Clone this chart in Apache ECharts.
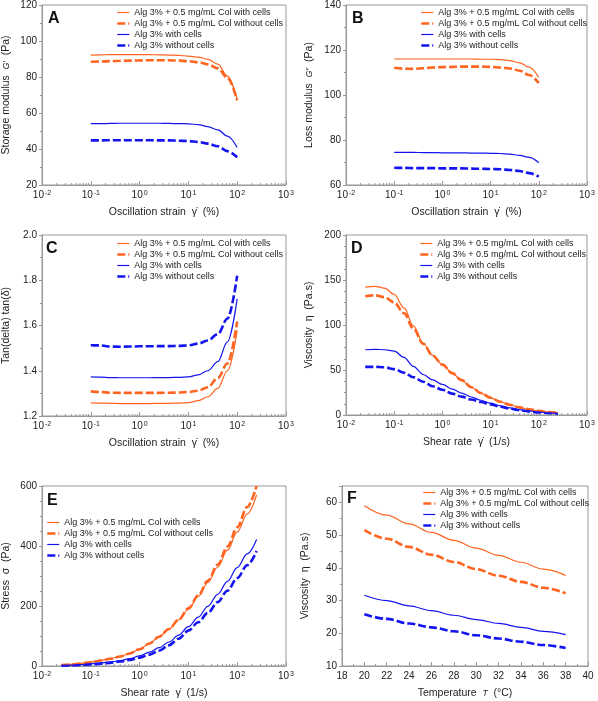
<!DOCTYPE html>
<html>
<head>
<meta charset="utf-8">
<title>Alginate rheology</title>
<script src="https://cdn.jsdelivr.net/npm/echarts@6/dist/echarts.min.js"></script>
<style>
  html, body { margin: 0; padding: 0; background: #fff; }
  #chart { width: 598px; height: 701px; }
</style>
</head>
<body>
<div id="chart"></div>
<script>
var FONT = '"Liberation Sans", Arial, sans-serif';
var ORANGE = '#FF6420', BLUE = '#1414F0', AXIS = '#999999', TXT = '#222222';

var names = ['Alg 3% + 0.5 mg/mL Col with cells', 'Alg 3% + 0.5 mg/mL Col without cells',
             'Alg 3% with cells', 'Alg 3% without cells'];

// A, B, C : amplitude sweep
var strain = [0.1, 0.16, 0.25, 0.4, 0.63, 1, 1.6, 2.5, 4, 6.3, 10, 16, 25, 40, 63, 100];
var gStoreColCells   = [92.2, 92.3, 92.4, 92.4, 92.4, 92.4, 92.4, 92.3, 92.2, 92.0, 91.6, 91.0, 89.8, 87.2, 80.5, 67.5];
var gStoreColNoCells = [88.5, 88.6, 88.8, 89.0, 89.1, 89.2, 89.3, 89.3, 89.3, 89.1, 88.8, 88.2, 87.0, 84.8, 79.5, 67.0];
var gStoreAlgCells   = [54.1, 54.1, 54.2, 54.3, 54.3, 54.3, 54.3, 54.3, 54.2, 54.1, 54.0, 53.5, 52.4, 50.6, 47.2, 40.8];
var gStoreAlgNoCells = [44.8, 44.8, 44.9, 44.9, 44.9, 44.9, 44.9, 44.8, 44.8, 44.6, 44.4, 43.9, 43.0, 41.5, 38.8, 35.4];

var gLossColCells    = [116.0, 116.0, 116.0, 116.0, 116.0, 116.0, 116.0, 116.0, 116.0, 115.9, 115.9, 115.7, 115.3, 114.3, 112.4, 107.8];
var gLossColNoCells  = [112.1, 111.7, 111.6, 111.9, 112.2, 112.4, 112.5, 112.6, 112.6, 112.6, 112.5, 112.2, 111.8, 110.8, 108.9, 105.3];
var gLossAlgCells    = [74.5, 74.5, 74.5, 74.4, 74.4, 74.3, 74.3, 74.3, 74.2, 74.2, 74.1, 74.0, 73.7, 73.2, 72.3, 69.9];
var gLossAlgNoCells  = [67.7, 67.6, 67.5, 67.5, 67.5, 67.4, 67.4, 67.4, 67.3, 67.2, 67.1, 67.0, 66.7, 66.2, 65.3, 63.7];

var tanColCells      = [1.258, 1.257, 1.256, 1.255, 1.255, 1.255, 1.255, 1.256, 1.256, 1.257, 1.259, 1.268, 1.285, 1.322, 1.400, 1.578];
var tanColNoCells    = [1.309, 1.306, 1.303, 1.302, 1.302, 1.302, 1.302, 1.302, 1.303, 1.304, 1.306, 1.312, 1.327, 1.368, 1.432, 1.618];
var tanAlgCells      = [1.373, 1.372, 1.370, 1.369, 1.369, 1.369, 1.369, 1.370, 1.370, 1.371, 1.373, 1.382, 1.400, 1.440, 1.528, 1.718];
var tanAlgNoCells    = [1.513, 1.512, 1.507, 1.506, 1.507, 1.508, 1.508, 1.509, 1.509, 1.510, 1.512, 1.520, 1.534, 1.562, 1.630, 1.820];

// D, E : flow curves
var shearRate = [0.025, 0.04, 0.063, 0.1, 0.16, 0.25, 0.4, 0.63, 1, 1.6, 2.5, 4, 6.3, 10, 16, 25, 40, 63, 100, 160, 250];
var etaColCells      = [142, 143, 141, 134, 119, 99, 80, 66, 56, 46.5, 38.5, 30.8, 24.4, 19.0, 14.5, 11.2, 8.3, 6.1, 4.5, 3.2, 2.3];
var etaColNoCells    = [132, 133, 131, 125, 113, 96, 79, 66, 56, 46.5, 38.7, 30.9, 24.4, 19.2, 14.7, 11.4, 8.5, 6.3, 4.6, 3.3, 2.4];
var etaAlgCells      = [72.5, 73, 72.5, 71, 64, 54, 45, 39, 34, 28.8, 24.4, 20.0, 16.4, 13.1, 10.2, 8.0, 6.0, 4.5, 3.3, 2.3, 1.7];
var etaAlgNoCells    = [53.5, 53.5, 53, 51, 47, 42, 37, 32, 28, 23.8, 20.4, 17.2, 14.4, 11.8, 9.1, 7.1, 5.3, 4.0, 2.9, 2.1, 1.5];

var stressColCells   = [3.6, 5.7, 8.9, 13.4, 19, 24.8, 32, 41.6, 56, 75, 97, 123, 154, 190, 232, 279, 330, 386, 446, 507, 570];
var stressColNoCells = [3.3, 5.3, 8.3, 12.5, 18.1, 24, 31.6, 41.6, 56, 75, 97.5, 123.5, 154, 192, 235, 284, 338, 398, 462, 530, 600];
var stressAlgCells   = [1.8, 2.9, 4.6, 7.1, 10.2, 13.5, 18, 24.6, 34, 46, 61, 80, 103, 131, 163, 199, 239, 282, 328, 374, 422];
var stressAlgNoCells = [1.3, 2.1, 3.3, 5.1, 7.5, 10.5, 14.8, 20, 28, 38, 51, 69, 91, 118, 146, 177, 213, 251, 293, 336, 383];

// F : temperature sweep
var temperature = [20, 22, 24, 26, 28, 30, 32, 34, 36, 38];
var etaTColCells     = [59.0, 56.1, 53.4, 50.8, 48.4, 46.0, 43.8, 41.7, 39.6, 37.7];
var etaTColNoCells   = [51.5, 48.9, 46.4, 44.0, 41.8, 39.6, 37.6, 35.7, 33.9, 32.2];
var etaTAlgCells     = [31.6, 30.0, 28.4, 26.9, 25.5, 24.2, 23.0, 21.8, 20.6, 19.6];
var etaTAlgNoCells   = [25.8, 24.4, 23.0, 21.8, 20.6, 19.4, 18.4, 17.4, 16.4, 15.5];

var panelLetters = ['A', 'B', 'C', 'D', 'E', 'F'];

var lineLooks = [
  { color: ORANGE, width: 1.2, type: 'solid' },
  { color: ORANGE, width: 2.6, type: [8, 3] },
  { color: BLUE, width: 1.2, type: 'solid' },
  { color: BLUE, width: 2.6, type: [8, 3] }
];

var grids = [
  { left: 41, top: 5, width: 245, height: 180 },
  { left: 346, top: 5, width: 241, height: 180 },
  { left: 41, top: 235, width: 245, height: 181 },
  { left: 346, top: 235, width: 241, height: 180 },
  { left: 41, top: 486, width: 245, height: 180 },
  { left: 342, top: 486, width: 246, height: 180 }
];
grids.forEach(function (g) {
  g.show = true; g.borderColor = AXIS; g.borderWidth = 1; g.containLabel = false;
});

var nameStyle = {
  fontSize: 10.5, color: TXT, fontFamily: FONT,
  rich: { i: { fontStyle: 'italic', fontSize: 8.5, color: TXT, fontFamily: FONT } }
};

function logAxis(gi, name) {
  return {
    type: 'log', logBase: 10, gridIndex: gi, min: 0.01, max: 1000,
    name: name, nameLocation: 'middle', nameGap: 22, nameTextStyle: nameStyle,
    axisLine: { lineStyle: { color: AXIS } },
    axisTick: { inside: true, length: 4, lineStyle: { color: AXIS } },
    splitLine: { show: false },
    axisLabel: {
      color: TXT, fontSize: 10, fontFamily: FONT, margin: 5,
      formatter: function (v) { return '10{s|' + Math.round(Math.log10(v)) + '}'; },
      rich: { s: { fontSize: 7, color: TXT, fontFamily: FONT, verticalAlign: 'top', padding: [0, 0, 4, 1] } }
    }
  };
}

function valAxis(gi, name, min, max, interval, minor, digits, gap) {
  return {
    type: 'value', gridIndex: gi, min: min, max: max, interval: interval,
    name: name, nameLocation: 'middle', nameGap: gap, nameTextStyle: nameStyle,
    axisLine: { show: true, lineStyle: { color: AXIS } },
    axisTick: { show: true, inside: false, length: 3, lineStyle: { color: AXIS } },
    minorTick: { show: true, splitNumber: minor, length: 2, lineStyle: { color: AXIS } },
    splitLine: { show: false },
    axisLabel: {
      color: TXT, fontSize: 10, fontFamily: FONT, margin: 5, showMaxLabel: gi !== 5,
      formatter: function (v) { return v.toFixed(digits); }
    }
  };
}

var xAxes = [
  logAxis(0, 'Oscillation strain  γ̇  (%)'),
  logAxis(1, 'Oscillation strain  γ̇  (%)'),
  logAxis(2, 'Oscillation strain  γ̇  (%)'),
  logAxis(3, 'Shear rate  γ̇  (1/s)'),
  logAxis(4, 'Shear rate  γ̇  (1/s)'),
  {
    type: 'value', gridIndex: 5, min: 18, max: 40, interval: 2,
    name: 'Temperature  {i|T}  (°C)', nameLocation: 'middle', nameGap: 22, nameTextStyle: nameStyle,
    axisLine: { lineStyle: { color: AXIS } },
    axisTick: { inside: true, length: 4, lineStyle: { color: AXIS } },
    minorTick: { show: true, splitNumber: 2, length: 2, lineStyle: { color: AXIS } },
    splitLine: { show: false },
    axisLabel: { color: TXT, fontSize: 10, fontFamily: FONT, margin: 5 }
  }
];

var yAxes = [
  valAxis(0, 'Storage modulus  {i|G′}  (Pa)', 20, 120, 20, 2, 0, 30),
  valAxis(1, 'Loss modulus  {i|G″}  (Pa)', 60, 140, 20, 2, 0, 31),
  valAxis(2, 'Tan(delta) tan(δ)', 1.2, 2.0, 0.2, 2, 1, 30),
  valAxis(3, 'Viscosity  η  (Pa.s)', 0, 200, 50, 4, 0, 31),
  valAxis(4, 'Stress  σ  (Pa)', 0, 600, 200, 4, 0, 30),
  valAxis(5, 'Viscosity  η  (Pa.s)', 10, 65, 10, 2, 0, 31)
];

var panels = [
  { x: strain, ys: [gStoreColCells, gStoreColNoCells, gStoreAlgCells, gStoreAlgNoCells], yMin: 20 },
  { x: strain, ys: [gLossColCells, gLossColNoCells, gLossAlgCells, gLossAlgNoCells], yMin: 60 },
  { x: strain, ys: [tanColCells, tanColNoCells, tanAlgCells, tanAlgNoCells], yMin: 1.2 },
  { x: shearRate, ys: [etaColCells, etaColNoCells, etaAlgCells, etaAlgNoCells], yMin: 0 },
  { x: shearRate, ys: [stressColCells, stressColNoCells, stressAlgCells, stressAlgNoCells], yMin: 0 },
  { x: temperature, ys: [etaTColCells, etaTColNoCells, etaTAlgCells, etaTAlgNoCells], yMin: 10 }
];

// minor ticks of the log axes at 2..9 x 10^n
var logMinor = [];
for (var e = -2; e < 3; e++) {
  for (var k = 2; k <= 9; k++) logMinor.push(k * Math.pow(10, e));
}

var series = [];
panels.forEach(function (p, gi) {
  p.ys.forEach(function (ys, si) {
    var look = lineLooks[si];
    series.push({
      type: 'line', name: names[si], xAxisIndex: gi, yAxisIndex: gi,
      data: p.x.map(function (x, i) { return [x, ys[i]]; }),
      symbol: 'none', showSymbol: false, smooth: 0.35, smoothMonotone: 'x',
      color: look.color,
      lineStyle: { color: look.color, width: look.width, type: look.type },
      z: si === 0 || si === 2 ? 4 : 3
    });
  });
  if (gi < 5) {
    series.push({
      type: 'custom', xAxisIndex: gi, yAxisIndex: gi, silent: true, z: 1,
      data: logMinor.map(function (v) { return [v, p.yMin]; }),
      renderItem: function (params, api) {
        var pt = api.coord([api.value(0), api.value(1)]);
        return {
          type: 'line',
          shape: { x1: pt[0], y1: pt[1], x2: pt[0], y2: pt[1] - 2 },
          style: { stroke: AXIS, lineWidth: 1 }
        };
      }
    });
  }
});

var legendSpots = [[116, 8], [420, 8], [116, 239], [419, 239], [46, 518], [422, 488]];
var legends = legendSpots.map(function (s) {
  return {
    left: s[0], top: s[1], orient: 'vertical', padding: 0,
    itemWidth: 12, itemHeight: 8, itemGap: 2, selectedMode: false,
    itemStyle: { opacity: 0 },
    lineStyle: { width: 'inherit' },
    data: names,
    textStyle: { fontSize: 9, color: TXT, fontFamily: FONT, lineHeight: 9 }
  };
});

var letterSpots = [[48, 11], [352, 11], [46, 241], [351, 241], [47, 493], [347, 491]];
var graphics = letterSpots.map(function (s, i) {
  return {
    type: 'text', left: s[0], top: s[1],
    style: { text: panelLetters[i], font: 'bold 16px ' + FONT, fill: '#111' }
  };
});

var chart = echarts.init(document.getElementById('chart'));
chart.setOption({
  animation: false,
  backgroundColor: '#ffffff',
  textStyle: { fontFamily: FONT },
  grid: grids,
  xAxis: xAxes,
  yAxis: yAxes,
  legend: legends,
  graphic: graphics,
  series: series
});
</script>
</body>
</html>
